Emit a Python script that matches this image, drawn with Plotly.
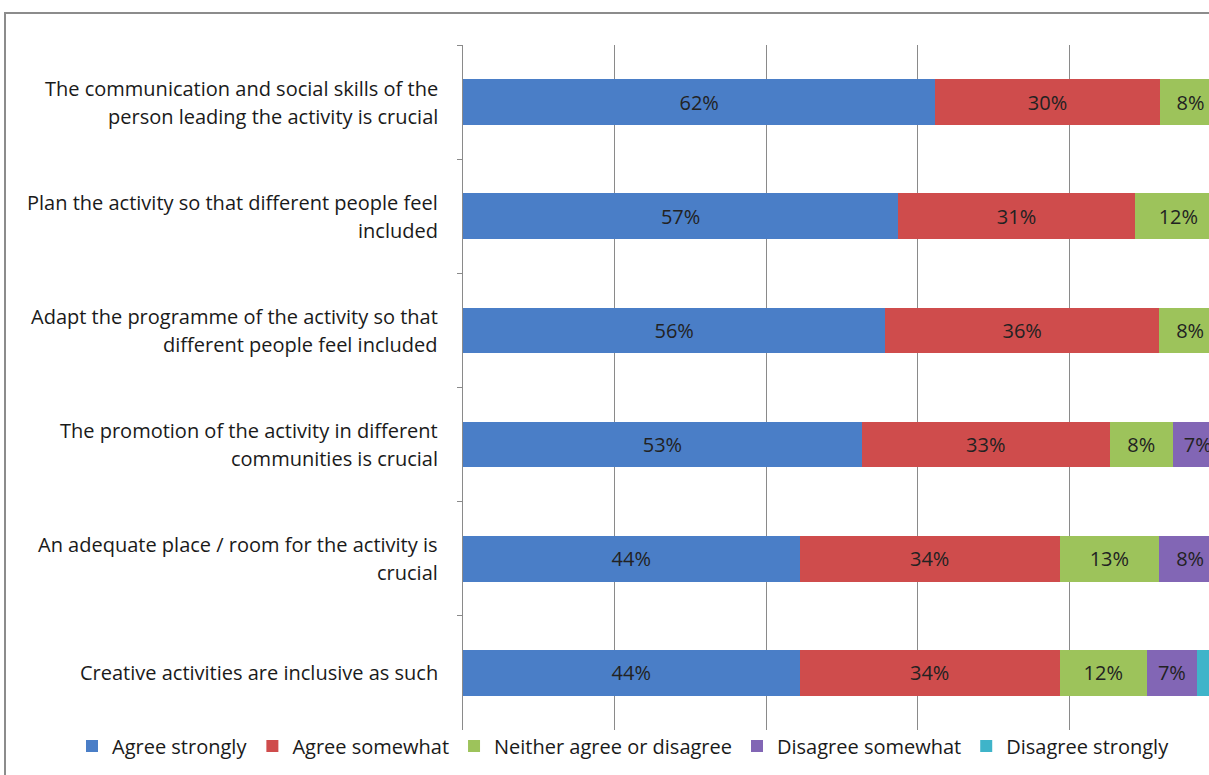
import plotly.graph_objects as go

categories = [
    "The communication and social skills of the<br>person leading the activity is crucial",
    "Plan the activity so that different people feel<br>included",
    "Adapt the programme of the activity so that<br>different people feel included",
    "The promotion of the activity in different<br>communities is crucial",
    "An adequate place / room for the activity is<br>crucial",
    "Creative activities are inclusive as such",
]
series_names = ["Agree strongly", "Agree somewhat", "Neither agree or disagree",
                "Disagree somewhat", "Disagree strongly"]
agree_strongly = [62.3, 57.4, 55.7, 52.6, 44.4, 44.4]
agree_somewhat = [29.6, 31.2, 36.1, 32.7, 34.3, 34.3]
neither = [8.1, 11.5, 8.2, 8.3, 13.1, 11.5]
disagree_somewhat = [0, 0, 0, 6.6, 8.2, 6.6]
disagree_strongly = [0, 0, 0, 0, 0, 3.2]
series_values = [agree_strongly, agree_somewhat, neither, disagree_somewhat, disagree_strongly]
colors = ["#4A7EC7", "#CF4C4C", "#9DC35B", "#8266B5", "#3FB4C9"]

FONT = "Open Sans"
FS = 20
fig = go.Figure()
for name, vals, col in zip(series_names, series_values, colors):
    show_text = name != "Disagree strongly"
    fig.add_trace(go.Bar(
        y=categories, x=vals, name=name, orientation="h",
        marker=dict(color=col, line=dict(width=0)),
        text=[(f"{v:.0f}%" if (v > 0 and show_text) else "") for v in vals],
        textposition="inside", insidetextanchor="middle", textangle=0,
        textfont=dict(family=FONT, size=FS, color="#222222"),
        hoverinfo="x+name",
    ))

W, H = 1209, 775
ml, mr, mt, mb = 463, 0, 45, 45
pw = W - ml - mr
ph = H - mt - mb

# category labels: right-aligned block, centered lines
for cat in categories:
    lines = cat.split("<br>")
    n = len(lines)
    for i, line in enumerate(lines):
        fig.add_annotation(
            x=(440 - ml) / pw, xref="paper", xanchor="right",
            y=cat, yref="y", yanchor="middle",
            yshift=((n - 1) / 2 - i) * 28,
            text=line, showarrow=False,
            font=dict(family=FONT, size=FS, color="#1a1a1a"),
        )

fig.add_shape(type="rect", xref="paper", yref="paper",
              x0=(5 - ml) / pw, x1=1.05, y0=-0.2, y1=1 + (mt - 13) / ph,
              line=dict(color="#8c8c8c", width=2), fillcolor="rgba(0,0,0,0)", layer="below")

fig.update_layout(
    width=W, height=H,
    margin=dict(l=ml, r=mr, t=mt, b=mb),
    barmode="stack", bargap=0.6,
    plot_bgcolor="white", paper_bgcolor="white",
    uniformtext=dict(minsize=FS, mode="show"),
    font=dict(family=FONT, size=FS, color="#1a1a1a"),
    legend=dict(orientation="h", xref="paper", x=(72 - ml) / pw, xanchor="left",
                yref="paper", y=-(746 - (H - mb)) / ph, yanchor="middle",
                font=dict(family=FONT, size=FS, color="#1a1a1a"),
                itemwidth=30, traceorder="normal", bgcolor="rgba(0,0,0,0)"),
    xaxis=dict(range=[0, (W - mr - 462.7) / 7.585], showticklabels=False,
               showgrid=True, gridcolor="#8a8a8a", gridwidth=1, dtick=20,
               zeroline=False, showline=False, ticks=""),
    yaxis=dict(autorange="reversed", showticklabels=False, showgrid=False,
               showline=True, linecolor="#8a8a8a", linewidth=1,
               ticks="outside", tickson="boundaries", ticklen=5, tickcolor="#8a8a8a"),
)

fig.write_html("out.html", config={"displayModeBar": False},
               post_script="document.body.style.margin='0';document.body.style.padding='0';document.body.style.overflow='hidden';")
